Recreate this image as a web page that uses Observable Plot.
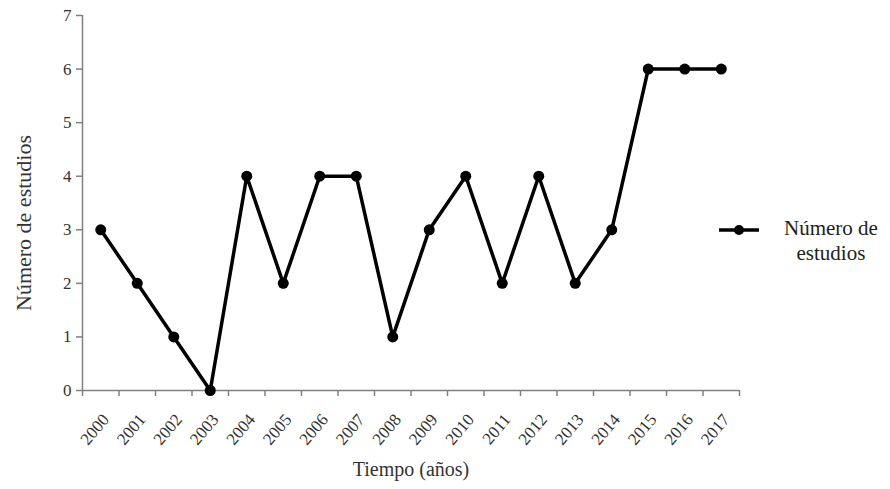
<!DOCTYPE html>
<html><head><meta charset="utf-8">
<script src="https://cdn.jsdelivr.net/npm/d3@7"></script>
<script src="https://cdn.jsdelivr.net/npm/@observablehq/plot@0.6"></script>
<style>
body{margin:0;background:#fff;}
#wrap{position:relative;width:890px;height:489px;font-family:"Liberation Serif","Times New Roman",serif;}
#legend{position:absolute;left:718px;top:216px;display:flex;align-items:flex-start;color:#222;font-size:21px;}
#legend svg{margin-top:8px;}
#legend .txt{text-align:center;line-height:25px;margin-left:24px;}
</style></head><body><div id="wrap"></div>
<script>
const years = [2000,2001,2002,2003,2004,2005,2006,2007,2008,2009,2010,2011,2012,2013,2014,2015,2016,2017];
const counts = [3,2,1,0,4,2,4,4,1,3,4,2,4,2,3,6,6,6];
const yTicks = [0,1,2,3,4,5,6,7];
const seriesName = "Número de estudios";
const xTitle = "Tiempo (años)";

const data = years.map((y,i)=>({pos:i+0.5, year:y, value:counts[i]}));

const plot = Plot.plot({
  width:890, height:489,
  marginLeft:82, marginRight:151, marginTop:15, marginBottom:99,
  style:{fontFamily:"'Liberation Serif','Times New Roman',serif", fontSize:"15px", color:"#222", background:"#fff", overflow:"visible"},
  x:{domain:[0, years.length]},
  y:{domain:[0, 7]},
  marks:[
    Plot.ruleX([0],{stroke:"#808080",strokeWidth:1.5}),
    Plot.ruleY([0],{stroke:"#808080",strokeWidth:1.5}),
    Plot.axisY({ticks:yTicks, tickSize:6, stroke:"#808080", strokeWidth:1.5, tickPadding:5, tickFormat:d3.format("d"), label:null, fontSize:17, fill:"#333"}),
    Plot.axisX({ticks:d3.range(years.length+1), tickSize:6, stroke:"#808080", strokeWidth:1.5, tickFormat:()=>"", label:null}),
    Plot.axisX({ticks:data.map(d=>d.pos), tickSize:0, tickPadding:26, tickRotate:-50, dx:5, tickFormat:p=>String(years[Math.floor(p)]), label:null, fontSize:17, fill:"#333"}),
    Plot.line(data,{x:"pos", y:"value", stroke:"#000", strokeWidth:3.5}),
    Plot.dot(data,{x:"pos", y:"value", r:5.5, fill:"#000"}),
    Plot.text([seriesName],{text:d=>d, frameAnchor:"left", textAnchor:"middle", rotate:-90, dx:-59, dy:20, fontSize:22, fill:"#333"}),
    Plot.text([xTitle],{text:d=>d, frameAnchor:"bottom", textAnchor:"middle", dy:85, fontSize:20, fill:"#333"})
  ]
});
const wrap = document.getElementById("wrap");
wrap.appendChild(plot);
const leg = document.createElement("div");
leg.id = "legend";
leg.innerHTML = `<svg width="42" height="12"><line x1="1" x2="41" y1="6" y2="6" stroke="#000" stroke-width="3.5"/><circle cx="21" cy="6" r="5" fill="#000"/></svg><div class="txt">Número de<br>estudios</div>`;
wrap.appendChild(leg);
</script></body></html>
